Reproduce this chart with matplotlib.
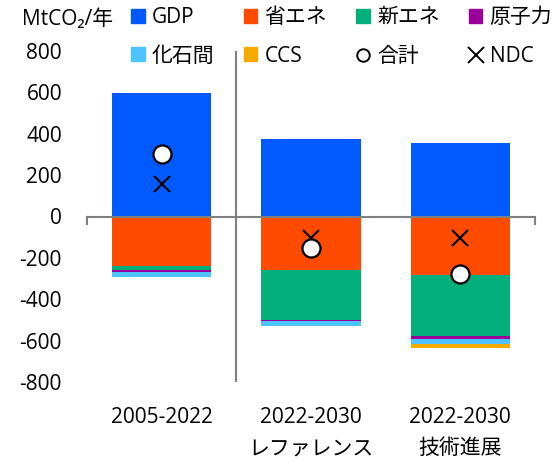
import numpy as np
import matplotlib.pyplot as plt
from matplotlib.patches import Patch
from matplotlib.lines import Line2D

plt.rcParams['font.family'] = ['Open Sans', 'Noto Sans CJK JP', 'DejaVu Sans']
plt.rcParams['axes.unicode_minus'] = False

# 要因分解 (MtCO2)
periods = ['2005-2022', '2022-2030\nレファレンス', '2022-2030\n技術進展']
gdp = [595, 377, 357]
shouene = [-237, -261, -285]
shinene = [-24, -241, -291]
genshiryoku = [-8, -5, -15]
kasekikan = [-24, -24, -26]
ccs = [0, 0, -19]
ndc = [155, -105, -105]

neg_series = [
    ('省エネ', shouene, '#FF4B00'),
    ('新エネ', shinene, '#03AF7A'),
    ('原子力', genshiryoku, '#990099'),
    ('化石間', kasekikan, '#4DC4FF'),
    ('CCS', ccs, '#F6AA00'),
]
gdp_color = '#005AFF'

x = np.arange(len(periods))
total = np.array(gdp) + sum(np.array(v) for _, v, _ in neg_series)

fig = plt.figure(figsize=(5.54, 4.63), dpi=100)
ax = fig.add_axes([87 / 554, 1 - 382 / 463, 448 / 554, 331 / 463])

w = 0.667
ax.bar(x, gdp, width=w, color=gdp_color, zorder=2)
bottom = np.zeros(len(periods))
for name, vals, col in neg_series:
    ax.bar(x, vals, width=w, bottom=bottom, color=col, zorder=2)
    bottom += np.array(vals)

ax.plot(x, ndc, 'x', color='black', markersize=12, mew=1.5, zorder=4)
ax.plot(x, total, 'o', markerfacecolor='white', markeredgecolor='black',
        markersize=13, mew=1.6, zorder=5)

ax.set_xlim(-0.5, 2.5)
ax.set_ylim(-800, 800)
ax.set_yticks(range(-800, 801, 200))
ax.tick_params(axis='y', length=0, pad=18, labelsize=15)
ax.set_xticks(x)
ax.set_xticklabels(periods, fontsize=15, linespacing=1.65)
ax.tick_params(axis='x', length=0, pad=18)
for s in ax.spines.values():
    s.set_visible(False)

# ゼロ線と区切り線
ax.axhline(0, color='#808080', lw=1.5, zorder=3)
ax.plot([-0.5, -0.5], [0, -38], color='#808080', lw=1.5, clip_on=False)
ax.plot([2.5, 2.5], [0, -38], color='#808080', lw=1.5, clip_on=False)
ax.axvline(0.5, color='#808080', lw=1.5, zorder=1)

fig.text(22 / 554, 1 - 19 / 463, 'MtCO₂/年', fontsize=15, va='center')

h = {
    'GDP': Patch(color=gdp_color, label='GDP'),
    '合計': Line2D([], [], marker='o', ls='', markerfacecolor='white',
                 markeredgecolor='black', markersize=9, mew=1.4, label='合計'),
    'NDC': Line2D([], [], marker='x', ls='', color='black', markersize=11,
                  mew=1.4, label='NDC'),
}
for name, _, col in neg_series:
    h[name] = Patch(color=col, label=name)

# 凡例は列方向に並ぶので、行順になるよう並べ替え
order = ['GDP', '化石間', '省エネ', 'CCS', '新エネ', '合計', '原子力', 'NDC']
fig.legend(handles=[h[k] for k in order], ncol=4, loc='upper left',
           bbox_to_anchor=(131 / 554, 1 - 7 / 463), frameon=False,
           fontsize=15, handlelength=0.65, handleheight=0.65,
           handletextpad=0.35, columnspacing=1.4, borderpad=0,
           borderaxespad=0, labelspacing=0.85)

fig.savefig('out.png', dpi=100)
